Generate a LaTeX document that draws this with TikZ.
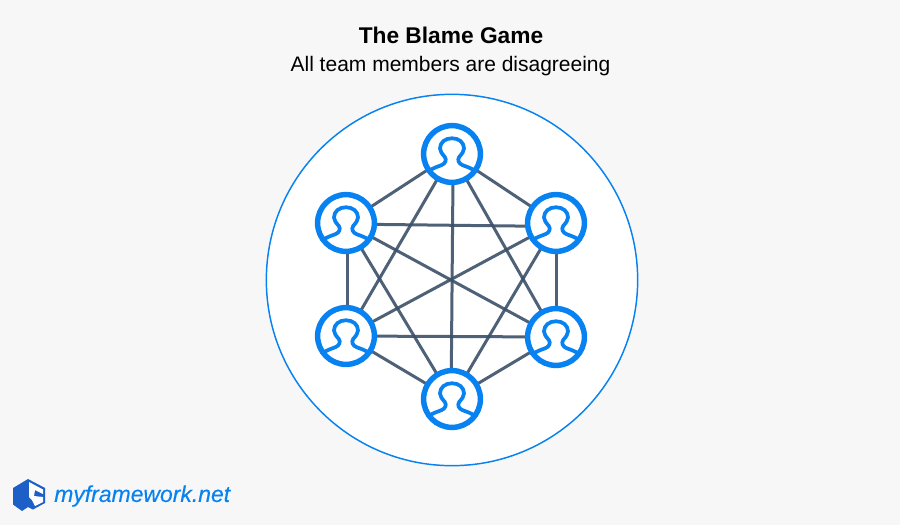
\documentclass[tikz,border=0pt]{standalone}
\usepackage{fontspec}
\setmainfont{Liberation Sans}
\definecolor{pagebg}{HTML}{F7F7F7}
\definecolor{ringblue}{HTML}{0782F0}
\definecolor{edgecol}{HTML}{3C5069}
\definecolor{logodark}{HTML}{1C5FC6}
\pgfdeclarelayer{backlayer}
\pgfdeclarelayer{edgelayer}
\pgfsetlayers{backlayer,edgelayer,main}
\tikzset{
  member/.style={circle,draw=ringblue,fill=white,line width=4.1pt,minimum size=42.6pt,inner sep=0pt,outer sep=0pt},
  link/.style={draw=edgecol,line width=2.25pt,draw opacity=.9},
  persona/.style={draw=ringblue,line width=2.8pt,line cap=round,line join=round},
  txt/.style={inner sep=0pt,text=black}
}
\newcommand{\personicon}[1]{%
  \draw[persona,shift={(#1)}] (-16pt,-11.8pt) .. controls (-13pt,-10.2pt) and (-10.5pt,-9.3pt) .. (-8pt,-8.4pt)
   .. controls (-5pt,-7.2pt) and (-3.8pt,-4.5pt) .. (-5.4pt,-2.2pt)
   .. controls (-7.5pt,0.2pt) and (-9pt,2pt) .. (-9pt,4.2pt)
   .. controls (-9pt,8.8pt) and (-5pt,11.8pt) .. (0pt,11.8pt)
   .. controls (5pt,11.8pt) and (9pt,8.8pt) .. (9pt,4.2pt)
   .. controls (9pt,2pt) and (7.5pt,0.2pt) .. (5.4pt,-2.2pt)
   .. controls (3.8pt,-4.5pt) and (5pt,-7.2pt) .. (8pt,-8.4pt)
   .. controls (10.5pt,-9.3pt) and (13pt,-10.2pt) .. (16pt,-11.8pt);}
\begin{document}
\begin{tikzpicture}[x=0.75pt,y=-0.75pt]
\useasboundingbox (0,0) rectangle (900,525);
\begin{pgfonlayer}{backlayer}
\fill[pagebg] (0,0) rectangle (900,525);
\node[circle,draw=ringblue,fill=white,line width=1.1pt,minimum size=278.5pt,inner sep=0pt] (arena) at (452,280) {};
\end{pgfonlayer}
\node[member] (top) at (452,154) {};
\node[member] (ul) at (346,223) {};
\node[member] (ur) at (556,223) {};
\node[member] (ll) at (346,336) {};
\node[member] (lr) at (556,337) {};
\node[member] (bot) at (452,399) {};
\begin{pgfonlayer}{edgelayer}
\foreach \a/\b in {top/ul,top/ur,top/ll,top/lr,ul/lr,ul/bot,ur/ll,ur/bot,ll/lr,ll/bot,lr/bot}
  \draw[link] (\a.center) -- (\b.center);
\draw[link] ([xshift=.9pt]top.center) -- ([xshift=-.7pt]bot.center);
\draw[link] ([xshift=1.2pt]ul.center) -- ([xshift=1.2pt]ll.center);
\draw[link] ([xshift=.5pt]ur.center) -- ([xshift=.5pt]lr.center);
\draw[link] ([yshift=-.8pt]ul.center) -- ([yshift=-2.6pt]ur.center);
\end{pgfonlayer}
\foreach \n in {top,ul,ur,ll,lr,bot} \personicon{\n.center};
\node[txt,font=\bfseries\fontsize{17.05}{20}\selectfont] (title) at (451,35) {The Blame Game};
\node[txt,font=\fontsize{15.75}{20}\selectfont] (sub) at (450.5,66) {All team members are disagreeing};
\node[txt,anchor=west,text=ringblue,font=\itshape\fontsize{17.2}{20}\selectfont\addfontfeature{FakeBold=0.25}] (brand) at (54,496) {myframework.net};
% logo
\fill[logodark] (13,488) -- (28,479) -- (45,488) -- (45,503) -- (33,509.5) -- (28,507) -- (22,511) -- (13,504.5) -- cycle;
\fill[white] (29,482) -- (43,489.5) -- (43,494) -- (35,490) -- (34,496) -- (43,497) -- (43,502) -- (35,506) -- (32,500) -- (29,497) -- cycle;
\end{tikzpicture}
\end{document}
